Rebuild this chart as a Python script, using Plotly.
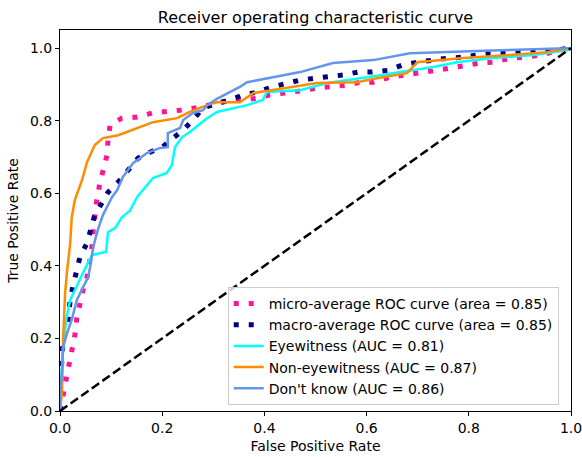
import plotly.graph_objects as go

# ROC curve points (false positive rate, true positive rate)
micro_fpr = [0, 0.004, 0.01, 0.014, 0.018, 0.023, 0.029, 0.033, 0.039, 0.045, 0.053, 0.059, 0.063, 0.065,
             0.068, 0.072, 0.078, 0.084, 0.092, 0.094, 0.098, 0.121, 0.151, 0.18, 0.209, 0.235, 0.264, 0.294,
             0.327, 0.356, 0.386, 0.411, 0.444, 0.47, 0.503, 0.528, 0.562, 0.587, 0.613, 0.646, 0.679, 0.705,
             0.738, 0.763, 0.796, 0.822, 0.847, 0.881, 0.914, 0.939, 0.978, 1.0]
micro_tpr = [0, 0.03, 0.058, 0.091, 0.132, 0.174, 0.209, 0.256, 0.298, 0.333, 0.369, 0.416, 0.457, 0.499,
             0.54, 0.581, 0.628, 0.664, 0.705, 0.747, 0.788, 0.807, 0.81, 0.821, 0.824, 0.829, 0.835, 0.843,
             0.854, 0.857, 0.862, 0.871, 0.876, 0.882, 0.89, 0.893, 0.898, 0.906, 0.906, 0.92, 0.926, 0.934,
             0.939, 0.945, 0.953, 0.959, 0.961, 0.972, 0.975, 0.981, 0.994, 1.0]

macro_fpr = [0, 0, 0.002, 0.004, 0.006, 0.014, 0.016, 0.02, 0.025, 0.033, 0.039, 0.053, 0.059, 0.068, 0.082,
             0.094, 0.114, 0.133, 0.153, 0.176, 0.2, 0.221, 0.241, 0.26, 0.28, 0.307, 0.333, 0.358, 0.387,
             0.415, 0.444, 0.47, 0.499, 0.528, 0.554, 0.583, 0.611, 0.642, 0.669, 0.699, 0.724, 0.757, 0.787,
             0.816, 0.841, 0.875, 0.9, 0.933, 0.965, 1.0]
macro_tpr = [0, 0.044, 0.099, 0.149, 0.196, 0.229, 0.264, 0.306, 0.342, 0.383, 0.424, 0.463, 0.499, 0.54,
             0.573, 0.603, 0.631, 0.664, 0.697, 0.713, 0.727, 0.752, 0.774, 0.802, 0.835, 0.848, 0.857, 0.871,
             0.879, 0.893, 0.904, 0.912, 0.917, 0.92, 0.926, 0.934, 0.934, 0.939, 0.953, 0.961, 0.967, 0.972,
             0.975, 0.981, 0.986, 0.986, 0.989, 0.989, 0.994, 1.0]

eye_fpr = [0, 0.002, 0.006, 0.012, 0.02, 0.029, 0.039, 0.055, 0.063, 0.09, 0.094, 0.108, 0.121, 0.137, 0.151,
           0.166, 0.182, 0.209, 0.219, 0.225, 0.239, 0.254, 0.288, 0.307, 0.346, 0.366, 0.397, 0.405, 0.47,
           0.523, 0.601, 0.691, 0.73, 0.777, 0.841, 0.926, 0.992, 1.0]
eye_tpr = [0, 0.085, 0.168, 0.251, 0.306, 0.333, 0.361, 0.41, 0.43, 0.438, 0.493, 0.504, 0.534, 0.552, 0.59,
           0.614, 0.642, 0.656, 0.678, 0.727, 0.755, 0.769, 0.807, 0.824, 0.837, 0.843, 0.857, 0.879, 0.884,
           0.904, 0.92, 0.939, 0.948, 0.961, 0.972, 0.981, 0.994, 1.0]

non_fpr = [0, 0.004, 0.006, 0.01, 0.014, 0.02, 0.023, 0.029, 0.043, 0.053, 0.068, 0.084, 0.114, 0.151, 0.182,
           0.229, 0.254, 0.288, 0.307, 0.352, 0.378, 0.503, 0.581, 0.62, 0.679, 0.699, 0.783, 0.881, 0.953, 1.0]
non_tpr = [0, 0.05, 0.196, 0.325, 0.388, 0.463, 0.534, 0.581, 0.636, 0.686, 0.733, 0.752, 0.76, 0.78, 0.796,
           0.807, 0.824, 0.843, 0.851, 0.851, 0.876, 0.904, 0.906, 0.917, 0.931, 0.961, 0.972, 0.981, 0.989, 1.0]

dk_fpr = [0, 0, 0.004, 0.006, 0.014, 0.023, 0.033, 0.045, 0.055, 0.059, 0.065, 0.074, 0.084, 0.102, 0.112,
          0.123, 0.143, 0.17, 0.196, 0.211, 0.211, 0.235, 0.241, 0.26, 0.28, 0.288, 0.307, 0.352, 0.366, 0.417,
          0.47, 0.534, 0.613, 0.685, 0.763, 0.861, 0.992, 1.0]
dk_tpr = [0, 0.03, 0.113, 0.176, 0.215, 0.251, 0.306, 0.342, 0.369, 0.397, 0.452, 0.499, 0.54, 0.59, 0.609,
          0.645, 0.683, 0.711, 0.725, 0.727, 0.766, 0.78, 0.802, 0.821, 0.829, 0.843, 0.86, 0.893, 0.906, 0.92,
          0.934, 0.959, 0.967, 0.986, 0.989, 0.994, 1.0, 1.0]

labels = ["micro-average ROC curve (area = 0.85)",
          "macro-average ROC curve (area = 0.85)",
          "Eyewitness (AUC = 0.81)",
          "Non-eyewitness (AUC = 0.87)",
          "Don't know (AUC = 0.86)"]
tick_vals = [0.0, 0.2, 0.4, 0.6, 0.8, 1.0]
tick_text = ["0.0", "0.2", "0.4", "0.6", "0.8", "1.0"]

fig = go.Figure()
fig.add_trace(go.Scatter(x=micro_fpr, y=micro_tpr, mode="lines", name=labels[0],
                         line=dict(color="deeppink", width=5, dash="5px,10px")))
fig.add_trace(go.Scatter(x=macro_fpr, y=macro_tpr, mode="lines", name=labels[1],
                         line=dict(color="navy", width=5, dash="5px,10px")))
fig.add_trace(go.Scatter(x=eye_fpr, y=eye_tpr, mode="lines", name=labels[2],
                         line=dict(color="aqua", width=2.5)))
fig.add_trace(go.Scatter(x=non_fpr, y=non_tpr, mode="lines", name=labels[3],
                         line=dict(color="darkorange", width=2.5)))
fig.add_trace(go.Scatter(x=dk_fpr, y=dk_tpr, mode="lines", name=labels[4],
                         line=dict(color="cornflowerblue", width=2.5)))
fig.add_trace(go.Scatter(x=[0, 1], y=[0, 1], mode="lines", showlegend=False,
                         line=dict(color="black", width=2.5, dash="9px,4px")))

axis_common = dict(
    showline=True, linecolor="black", linewidth=1, mirror=True,
    ticks="outside", ticklen=4, tickcolor="black", tickwidth=1,
    showgrid=False, zeroline=False, automargin=False,
    ticklabeloverflow="allow",
    tickvals=tick_vals, ticktext=tick_text,
    tickfont=dict(family="DejaVu Sans", size=14, color="black"),
    title_font=dict(family="DejaVu Sans", size=14, color="black"),
)

fig.update_layout(
    width=582, height=457,
    margin=dict(l=60, r=11, t=30, b=46),
    paper_bgcolor="white", plot_bgcolor="white",
    font=dict(family="DejaVu Sans", color="black"),
    title=dict(text="Receiver operating characteristic curve", x=0.5, xref="paper",
               y=1 - 17 / 457, yref="container", yanchor="middle", xanchor="center",
               font=dict(family="DejaVu Sans", size=16, color="black")),
    xaxis=dict(range=[0, 1], title=dict(text="False Positive Rate", standoff=6), **axis_common),
    yaxis=dict(range=[0, 1.05], title=dict(text="True Positive Rate", standoff=8), **axis_common),
    legend=dict(x=0.976, y=0.016, xanchor="right", yanchor="bottom",
                bgcolor="rgba(255,255,255,0.8)", bordercolor="#cccccc", borderwidth=1,
                font=dict(family="DejaVu Sans", size=14, color="black"),
                tracegroupgap=0),
    showlegend=True,
)

fig.write_html("out.html")
